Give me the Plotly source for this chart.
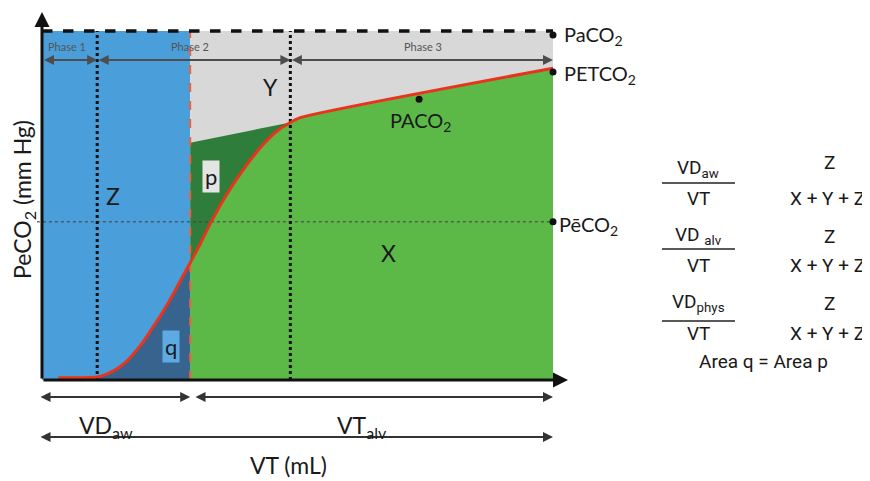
import plotly.graph_objects as go

# ---------------- data (VT in mL, PCO2 in mm Hg) ----------------
vt_curve = [16, 37, 54, 64, 73, 81, 89, 96, 103, 110, 116, 122, 128, 135, 145,
            155, 164, 176, 189, 204, 218, 231, 243, 252, 500]
pco2_curve = [0.3, 0.3, 0.4, 0.8, 1.4, 2.2, 3.3, 4.4, 5.7, 7.1, 8.3, 9.6, 11.0,
              12.7, 15.1, 17.6, 20.0, 22.9, 25.6, 28.4, 30.6, 32.2, 33.2, 33.8, 40.2]
vt_total = 500
vd_aw = 145           # end of airway dead space
phase1_end = 54
phase3_start = 243
paco2 = 45
pe_bar_co2 = 20.4
p_top_start = 30.6    # upper boundary of area p at VD_aw
point_x = [500, 500, 500, 369]
point_y = [44.5, 39.7, 20.4, 36.2]

# ---------------- pixel mapping helpers (layout only) ----------------
OFF = 8               # page offset of the plot div (body margin)
KX = 511 / 500
KY = 349 / 45
X0P, Y0P = 42, 380


def X(px):
    return (px - X0P) / KX


def Y(py):
    return (Y0P - py) / KY


BLUE = "#4a9fdb"
GRAY = "#d8d8d8"
GREEN = "#5cb948"
DGREEN = "#2e7d3a"
DBLUE = "#36648f"
RED = "#e8341c"
LAB = "Lato"
FORM = "Roboto"

fig = go.Figure()


def poly(xs, ys, color):
    fig.add_trace(go.Scatter(x=xs, y=ys, fill="toself", fillcolor=color, mode="none",
                             hoverinfo="skip"))


# blue (Z) region
poly([0, vd_aw, vd_aw, 0], [0, 0, paco2, paco2], BLUE)
# gray (Y) region
poly([vd_aw, vt_total, vt_total, vd_aw], [0, 0, paco2, paco2], GRAY)
# green (X) region under curve
gx = [v for v in vt_curve if v >= vd_aw]
gy = [p for v, p in zip(vt_curve, pco2_curve) if v >= vd_aw]
poly(gx + [vt_total, vd_aw], gy + [0, 0], GREEN)
# area p
px_ = [v for v in vt_curve if vd_aw <= v <= phase3_start]
py_ = [p for v, p in zip(vt_curve, pco2_curve) if vd_aw <= v <= phase3_start]
poly([vd_aw] + px_[::-1], [p_top_start] + py_[::-1], DGREEN)
# area q
qx = [v for v in vt_curve if phase1_end <= v <= vd_aw]
qy = [p for v, p in zip(vt_curve, pco2_curve) if phase1_end <= v <= vd_aw]
poly(qx + [vd_aw, phase1_end], qy + [0, 0], DBLUE)

# PēCO2 dotted horizontal
fig.add_trace(go.Scatter(x=[-5, vt_total], y=[pe_bar_co2, pe_bar_co2], mode="lines",
                         line=dict(color="rgba(70,70,70,0.75)", width=1.5, dash="dot"),
                         hoverinfo="skip"))
# dotted phase boundaries
for xv in [phase1_end, phase3_start]:
    fig.add_trace(go.Scatter(x=[xv, xv], y=[0, paco2], mode="lines",
                             line=dict(color="#111111", width=3, dash="dot"),
                             hoverinfo="skip"))
# red dashed VD_aw boundary
fig.add_trace(go.Scatter(x=[vd_aw, vd_aw], y=[0, paco2], mode="lines",
                         line=dict(color="#f0603c", width=2, dash="dash"),
                         hoverinfo="skip"))
# capnogram curve
fig.add_trace(go.Scatter(x=vt_curve, y=pco2_curve, mode="lines",
                         line=dict(color=RED, width=3, shape="spline", smoothing=0.6),
                         hoverinfo="skip"))
# PaCO2 dashed line
fig.add_trace(go.Scatter(x=[0, vt_total], y=[paco2, paco2], mode="lines",
                         line=dict(color="#111111", width=3.5, dash="dash"),
                         hoverinfo="skip"))
# points
fig.add_trace(go.Scatter(x=point_x, y=point_y, mode="markers",
                         marker=dict(color="#111111", size=7), hoverinfo="skip"))

annotations = []


def arrow(x0, y0, x1, y1, color, width, both=True, head=2, size=1.0):
    annotations.append(dict(x=x1, y=y1, ax=x0, ay=y0, xref="x", yref="y", axref="x",
                            ayref="y", text="", showarrow=True, arrowhead=head,
                            startarrowhead=head, arrowsize=size, startarrowsize=size,
                            arrowwidth=width, arrowcolor=color,
                            arrowside="end+start" if both else "end",
                            standoff=0, startstandoff=0))


# axes
arrow(0, 0, 0, Y(12), "#111111", 3, both=False)
arrow(0, 0, X(568), 0, "#111111", 3, both=False)
# phase arrows
ph_y = Y(60)
arrow(0.5, ph_y, phase1_end, ph_y, "#4d4d4d", 2)
arrow(phase1_end, ph_y, phase3_start, ph_y, "#4d4d4d", 2)
arrow(phase3_start, ph_y, vt_total, ph_y, "#4d4d4d", 2)
# bottom volume arrows
arrow(X(39), Y(397), vd_aw, Y(397), "#333333", 2)
arrow(X(194), Y(397), vt_total, Y(397), "#333333", 2)
arrow(X(39), Y(437), vt_total, Y(437), "#333333", 2)


def txt(px, py, text, size, color="#1a1a1a", family=LAB, xanchor="center",
        angle=0, bg=None):
    d = dict(x=X(px), y=Y(py), xref="x", yref="y", text=text, showarrow=False,
             font=dict(size=size, color=color, family=family), xanchor=xanchor,
             yanchor="middle", textangle=angle)
    if bg:
        d.update(bgcolor=bg, borderpad=2)
    annotations.append(d)


txt(67, 46, "Phase 1", 11, "#555555")
txt(190, 46, "Phase 2", 11, "#555555")
txt(423, 46, "Phase 3", 11, "#555555")
txt(113, 196, "Z", 23)
txt(270, 87, "Y", 23)
txt(388, 253, "X", 23)
txt(211, 176, "p", 22, bg="#e4e4e4")
txt(171, 346, "q", 22, bg="#5eaae2")
txt(562, 35, "PaCO<sub>2</sub>", 20, xanchor="left")
txt(562, 74, "PETCO<sub>2</sub>", 20, xanchor="left")
txt(557, 225, "PēCO<sub>2</sub>", 20, xanchor="left")
txt(420, 121, "PACO<sub>2</sub>", 20)
txt(23, 200, "PeCO<sub>2</sub> (mm Hg)", 23, angle=-90)
txt(106, 426, "VD<sub>aw</sub>", 23)
txt(362, 426, "VT<sub>alv</sub>", 23)
txt(288, 465, "VT (mL)", 23)

# right-side formulas
FS = 19
txt(698, 168, "VD<sub>aw</sub>", FS, family=FORM)
txt(698, 198, "VT", FS, family=FORM)
txt(829, 162, "Z", FS, family=FORM)
txt(827, 198, "X + Y + Z", FS, family=FORM)
txt(698, 235, "VD <sub>alv</sub>", FS, family=FORM)
txt(698, 265, "VT", FS, family=FORM)
txt(829, 236, "Z", FS, family=FORM)
txt(827, 265, "X + Y + Z", FS, family=FORM)
txt(698, 302, "VD<sub>phys</sub>", FS, family=FORM)
txt(698, 333, "VT", FS, family=FORM)
txt(829, 303, "Z", FS, family=FORM)
txt(827, 333, "X + Y + Z", FS, family=FORM)
txt(763, 361, "Area q = Area p", FS, family=FORM)

shapes = []
for ly in [183, 249, 321]:
    shapes.append(dict(type="line", xref="x", yref="y", x0=X(662), x1=X(735),
                       y0=Y(ly), y1=Y(ly), line=dict(color="#222222", width=1.5)))

fig.update_layout(
    width=870 - OFF, height=481 - OFF, autosize=False,
    margin=dict(l=0, r=0, t=0, b=0),
    xaxis=dict(range=[X(OFF), X(870)], visible=False, fixedrange=True),
    yaxis=dict(range=[Y(481), Y(OFF)], visible=False, fixedrange=True),
    plot_bgcolor="white", paper_bgcolor="white",
    showlegend=False,
    annotations=annotations,
    shapes=shapes,
)

fig.write_html("out.html")
